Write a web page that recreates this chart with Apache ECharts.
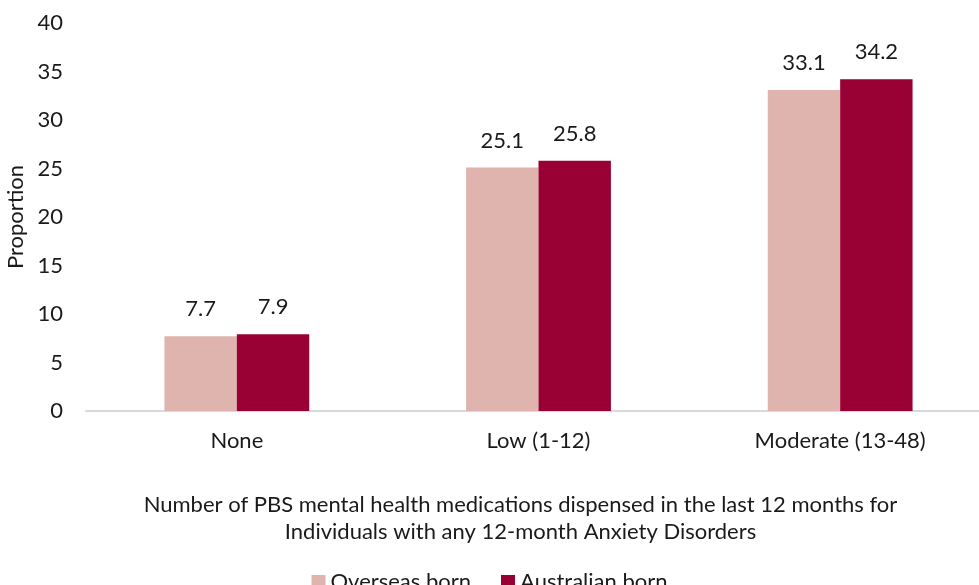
<!DOCTYPE html>
<html>
<head>
<meta charset="utf-8">
<style>
  html, body { margin: 0; padding: 0; background: #ffffff; }
  #chart { width: 979px; height: 585px; }
</style>
<script src="https://cdn.jsdelivr.net/npm/echarts@6/dist/echarts.min.js"></script>
</head>
<body>
<div id="chart"></div>
<script>
// Medication dispensing levels for people with a 12-month anxiety disorder
const categories = ['None', 'Low (1-12)', 'Moderate (13-48)'];
const overseasBorn = [7.7, 25.1, 33.1];
const australianBorn = [7.9, 25.8, 34.2];
const seriesNames = ['Overseas born', 'Australian born'];
const yTicks = { min: 0, max: 40, interval: 5 };

const FONT = 'Lato';
const TEXT = '#1a1a1a';
const SIZE = 22;

const chart = echarts.init(document.getElementById('chart'), null, { renderer: 'canvas' });

const labelStyle = {
  show: true,
  position: 'top',
  distance: 16,
  fontFamily: FONT,
  fontSize: SIZE,
  color: TEXT,
  formatter: p => p.value.toFixed(1)
};

chart.setOption({
  animation: false,
  textStyle: { fontFamily: FONT },
  grid: {
    left: 86, right: -12, top: 23, bottom: 174,
    containLabel: false,
    outerBoundsMode: 'none'
  },
  legend: {
    data: seriesNames,
    top: 566,
    left: 'center',
    itemWidth: 14,
    itemHeight: 14,
    itemGap: 30,
    itemTextGap: 6,
    icon: 'rect',
    textStyle: { fontFamily: FONT, fontSize: SIZE, color: TEXT }
  },
  xAxis: {
    type: 'category',
    data: categories,
    axisLine: { lineStyle: { color: '#d9d9d9', width: 2 } },
    axisTick: { show: false },
    axisLabel: { fontFamily: FONT, fontSize: SIZE, color: TEXT, margin: 19 },
    name: 'Number of PBS mental health medications dispensed in the last 12 months for\nIndividuals with any 12-month Anxiety Disorders',
    nameLocation: 'middle',
    nameGap: 80,
    nameTextStyle: {
      fontFamily: FONT, fontSize: SIZE, color: TEXT, lineHeight: 27, align: 'center',
      padding: [0, 36, 0, 0]
    }
  },
  yAxis: {
    type: 'value',
    min: yTicks.min,
    max: yTicks.max,
    interval: yTicks.interval,
    splitLine: { show: false },
    axisLine: { show: false },
    axisTick: { show: false },
    axisLabel: { fontFamily: FONT, fontSize: SIZE, color: TEXT, margin: 23 },
    name: 'Proportion',
    nameLocation: 'middle',
    nameGap: 58,
    nameRotate: 90,
    nameTextStyle: { fontFamily: FONT, fontSize: SIZE, color: TEXT }
  },
  series: [
    {
      name: seriesNames[0],
      type: 'bar',
      data: overseasBorn,
      barGap: '0%',
      barCategoryGap: '52%',
      itemStyle: { color: '#e0b4ae' },
      label: labelStyle
    },
    {
      name: seriesNames[1],
      type: 'bar',
      data: australianBorn,
      barGap: '0%',
      barCategoryGap: '52%',
      itemStyle: { color: '#990033' },
      label: labelStyle
    }
  ]
});
</script>
</body>
</html>
